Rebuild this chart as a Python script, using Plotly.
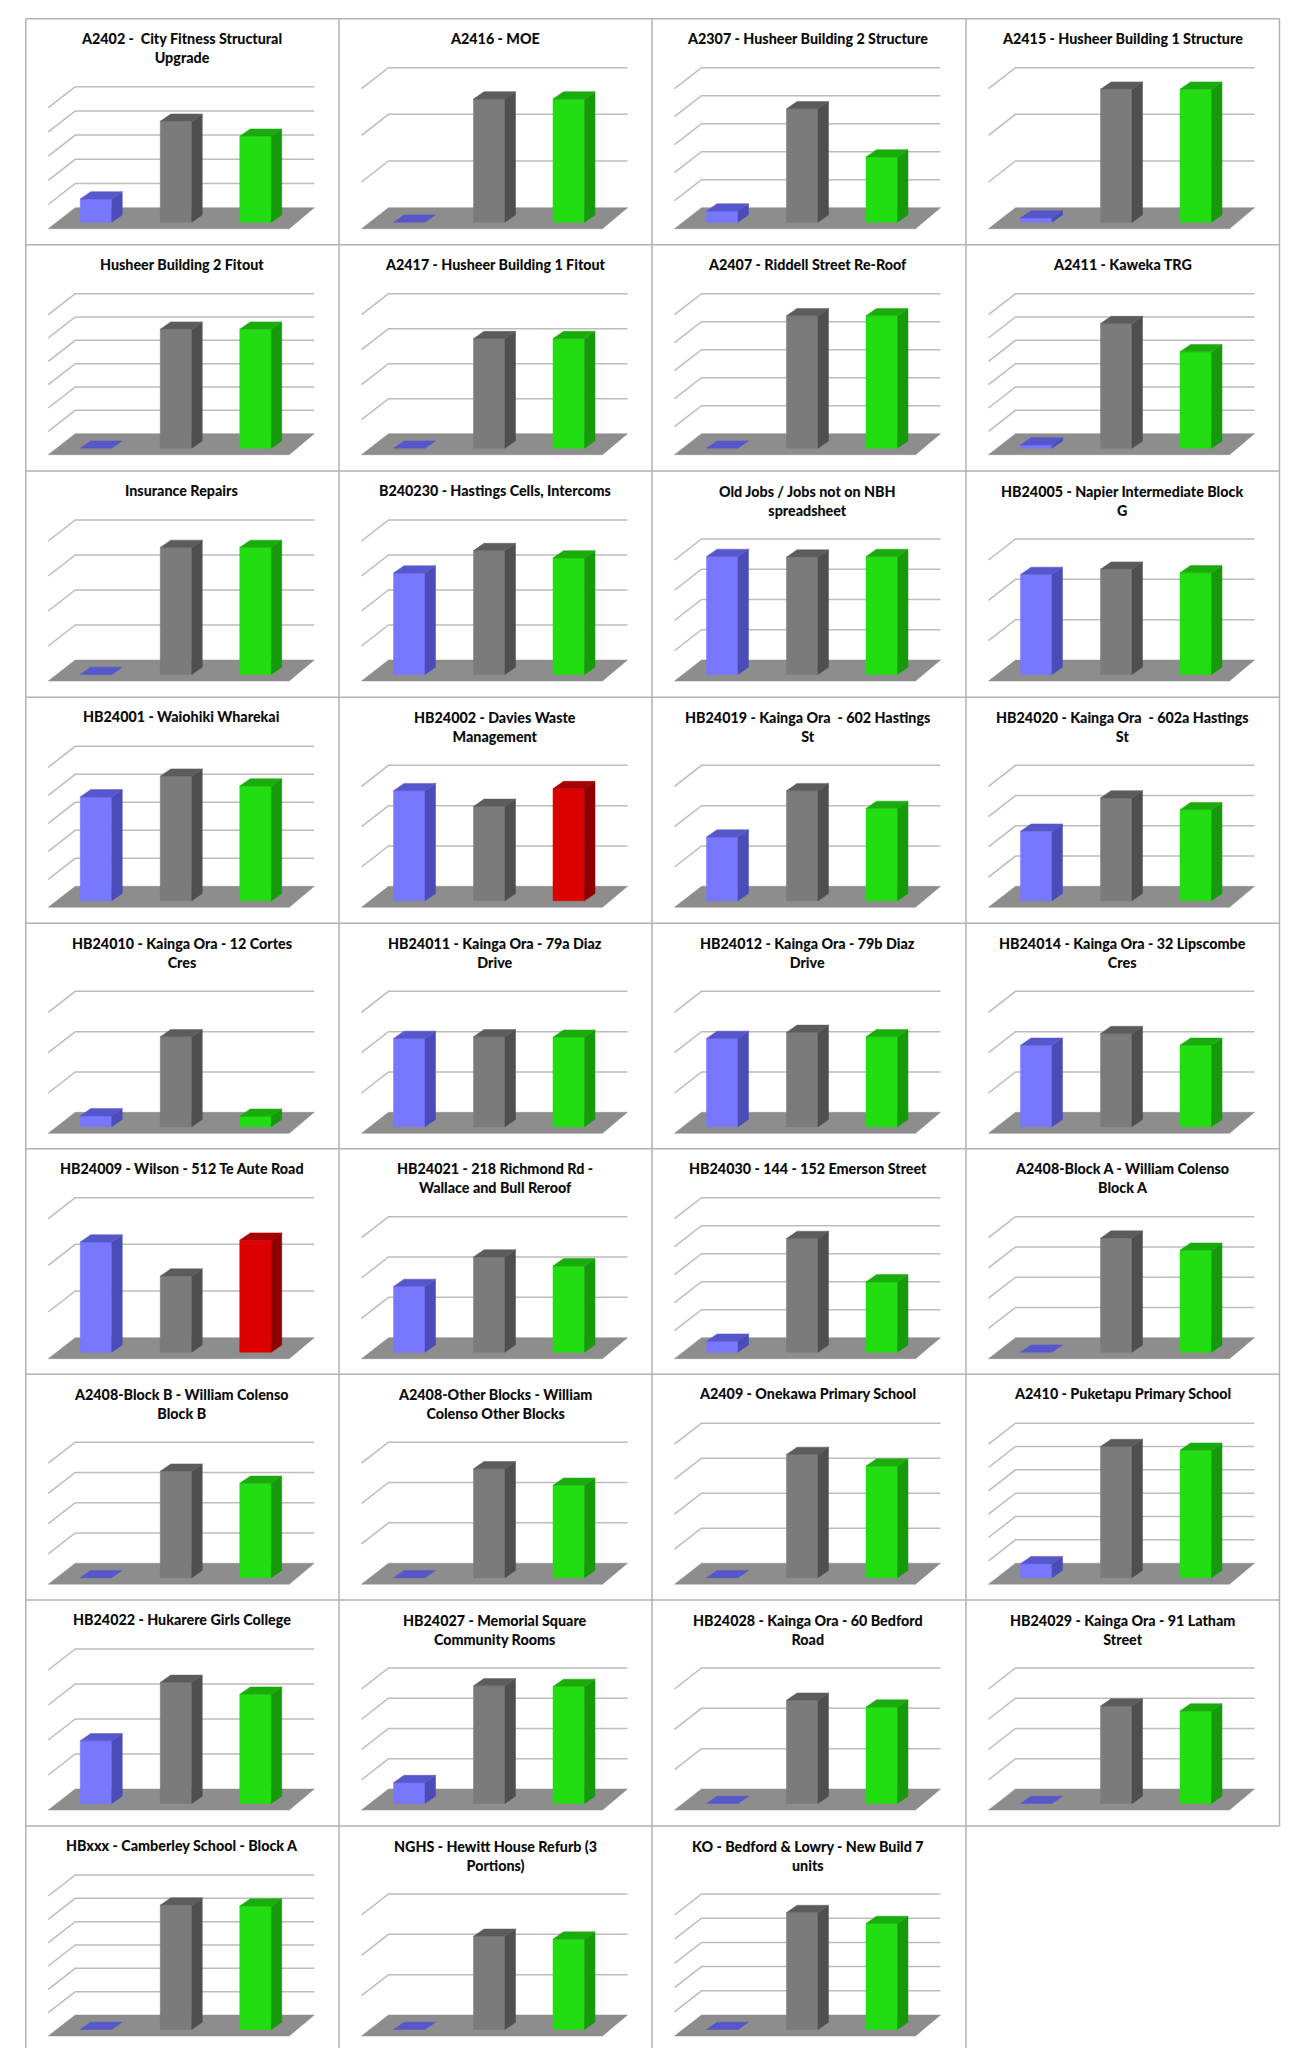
import plotly.graph_objects as go

# ---------- data (heights in gridline units) ----------
titles = [
    "A2402 -  City Fitness Structural<br>Upgrade", "A2416 - MOE", "A2307 - Husheer Building 2 Structure", "A2415 - Husheer Building 1 Structure",
    "Husheer Building 2 Fitout", "A2417 - Husheer Building 1 Fitout", "A2407 - Riddell Street Re-Roof", "A2411 - Kaweka TRG",
    "Insurance Repairs", "B240230 - Hastings Cells, Intercoms", "Old Jobs / Jobs not on NBH<br>spreadsheet", "HB24005 - Napier Intermediate Block<br>G",
    "HB24001 - Waiohiki Wharekai", "HB24002 - Davies Waste<br>Management", "HB24019 - Kainga Ora  - 602 Hastings<br>St", "HB24020 - Kainga Ora  - 602a Hastings<br>St",
    "HB24010 - Kainga Ora - 12 Cortes<br>Cres", "HB24011 - Kainga Ora - 79a Diaz<br>Drive", "HB24012 - Kainga Ora - 79b Diaz<br>Drive", "HB24014 - Kainga Ora - 32 Lipscombe<br>Cres",
    "HB24009 - Wilson - 512 Te Aute Road", "HB24021 - 218 Richmond Rd -<br>Wallace and Bull Reroof", "HB24030 - 144 - 152 Emerson Street", "A2408-Block A - William Colenso<br>Block A",
    "A2408-Block B - William Colenso<br>Block B", "A2408-Other Blocks - William<br>Colenso Other Blocks", "A2409 - Onekawa Primary School", "A2410 - Puketapu Primary School",
    "HB24022 - Hukarere Girls College", "HB24027 - Memorial Square<br>Community Rooms", "HB24028 - Kainga Ora - 60 Bedford<br>Road", "HB24029 - Kainga Ora - 91 Latham<br>Street",
    "HBxxx - Camberley School - Block A", "NGHS - Hewitt House Refurb (3<br>Portions)", "KO - Bedford &amp; Lowry - New Build 7<br>units",
]
grid_intervals = [5, 3, 5, 3, 6, 4, 5, 6, 4, 4, 4, 3, 5, 3, 3, 4, 3, 3, 3, 3, 3, 3, 5, 4, 4, 3, 4, 6, 4, 4, 3, 4, 6, 3, 5]
first_bar = [0.96, 0, 0.40, 0.09, 0, 0, 0, 0.14, 0, 2.90, 3.90, 2.48, 3.71, 2.73, 1.58, 2.30, 0.27, 2.19, 2.19, 2.02,
             2.36, 1.63, 0.39, 0, 0, 0, 0, 0.60, 1.79, 0.69, 0, 0, 0, 0, 0]
second_bar = [4.17, 2.64, 4.05, 2.85, 5.10, 3.13, 4.73, 5.34, 3.63, 3.54, 3.88, 2.61, 4.45, 2.34, 2.73, 3.40, 2.23, 2.23, 2.34, 2.31,
              1.63, 2.36, 4.06, 3.77, 3.52, 2.70, 3.52, 5.62, 3.46, 3.89, 2.56, 3.22, 5.33, 2.31, 4.83]
third_bar = [3.55, 2.64, 2.33, 2.85, 5.10, 3.13, 4.73, 4.13, 3.63, 3.33, 3.90, 2.52, 4.10, 2.78, 2.29, 3.01, 0.26, 2.22, 2.23, 2.02,
             2.40, 2.14, 2.51, 3.37, 3.12, 2.29, 3.19, 5.46, 3.12, 3.87, 2.39, 3.06, 5.29, 2.24, 4.38]
over_budget = {"HB24002 - Davies Waste<br>Management", "HB24009 - Wilson - 512 Te Aute Road"}

# ---------- styling ----------
W, H = 1301, 2048
COL_X = [25.75, 339.0, 652.0, 966.0, 1279.5]
ROW_Y = [18.7, 244.7, 471.0, 697.3, 923.3, 1148.7, 1374.2, 1600.0, 1826.0]
CELL_W, CELL_H = 313.4, 222.0
BORDER = "#b2b2b2"
GRID = "#bcbcbc"
FLOOR = "#8d8d8d"
BLUE = ("#7777ff", "#4c4cb8", "#5757cc")
GRAY = ("#7b7b7b", "#4f4f4f", "#5c5c5c")
GREEN = ("#22dd11", "#169a0b", "#1aab0d")
RED = ("#dd0000", "#8c0000", "#a80000")
FONT = "Lato"
# panel geometry in cell pixels
BASE = 203.5; FLOOR_BACK = 189.0; FLOOR_FRONT = 210.0
TOP_ONE = 49.0; TOP_TWO = 68.0
X_FL, X_BL, X_FR, X_BR = 22.5, 49.5, 263.5, 288.5
BAR_X = [54.5, 134.5, 214.0]; BAR_W = 31.5; DX = 10.5; DY = 7.3

fig = go.Figure()
annotations = []
layout_axes = {}


def poly(fig, xs, ys, color, xa, ya):
    fig.add_trace(go.Scatter(x=xs + [xs[0]], y=ys + [ys[0]], mode="lines", fill="toself", fillcolor=color,
                             line=dict(color=color, width=0.5), hoverinfo="skip", showlegend=False, xaxis=xa, yaxis=ya))


for i, title in enumerate(titles):
    r, c = i // 4, i % 4
    two = "<br>" in title
    top = TOP_TWO if two else TOP_ONE
    n = grid_intervals[i]
    u = (FLOOR_BACK - top) / n           # pixels per unit
    k = "" if i == 0 else str(i + 1)
    xa, ya = "x" + k, "y" + k
    layout_axes["xaxis" + k] = dict(domain=[COL_X[c] / W, min(1, (COL_X[c] + CELL_W) / W)], range=[0, CELL_W],
                                    visible=False, fixedrange=True, anchor=ya)
    layout_axes["yaxis" + k] = dict(domain=[1 - (ROW_Y[r] + CELL_H) / H, 1 - ROW_Y[r] / H],
                                    range=[-(CELL_H - BASE) / u, BASE / u],
                                    visible=False, fixedrange=True, anchor=xa)
    back0 = (BASE - FLOOR_BACK) / u
    drop = (FLOOR_FRONT - FLOOR_BACK) / u
    # walls
    gx, gy = [], []
    for t in range(1, n + 1):
        gx += [X_FL, X_BL, X_BR, None]
        gy += [back0 + t - drop, back0 + t, back0 + t, None]
    fig.add_trace(go.Scatter(x=gx, y=gy, mode="lines", line=dict(color=GRID, width=1.5), hoverinfo="skip",
                             showlegend=False, xaxis=xa, yaxis=ya))
    # floor
    poly(fig, [X_FL, X_FR, X_BR, X_BL], [back0 - drop, back0 - drop, back0, back0], FLOOR, xa, ya)
    # bars
    third_colors = RED if title in over_budget else GREEN
    for bx, v, cols in zip(BAR_X, (first_bar[i], second_bar[i], third_bar[i]), (BLUE, GRAY, third_colors)):
        dy = DY / u
        x1 = bx + BAR_W
        if v > 0:
            poly(fig, [bx, x1, x1, bx], [0, 0, v, v], cols[0], xa, ya)
            poly(fig, [x1, x1 + DX, x1 + DX, x1], [0, dy, v + dy, v], cols[1], xa, ya)
        poly(fig, [bx, x1, x1 + DX, bx + DX], [v, v, v + dy, v + dy], cols[2], xa, ya)
    annotations.append(dict(text=title, xref="paper", yref="paper",
                            x=(COL_X[c] + 156.0) / W, y=1 - (ROW_Y[r] + (29.6 if two else 19.6)) / H,
                            xanchor="center", yanchor="middle", showarrow=False, align="center",
                            font=dict(family=FONT, size=14.3, weight=900, color="#0c0c0c")))

# table frame
shapes = []
for y in ROW_Y:
    shapes.append(dict(type="line", xref="paper", yref="paper", x0=COL_X[0] / W, x1=COL_X[4] / W,
                       y0=1 - y / H, y1=1 - y / H, line=dict(color=BORDER, width=1.5)))
for j, x in enumerate(COL_X):
    end = ROW_Y[-1] if j == 4 else H
    shapes.append(dict(type="line", xref="paper", yref="paper", x0=x / W, x1=x / W,
                       y0=1 - ROW_Y[0] / H, y1=1 - end / H, line=dict(color=BORDER, width=1.5)))

fig.update_layout(width=W, height=H, margin=dict(l=0, r=0, t=0, b=0), paper_bgcolor="white", plot_bgcolor="rgba(0,0,0,0)",
                  showlegend=False, annotations=annotations, shapes=shapes, **layout_axes)
fig.write_html("out.html", config=dict(displayModeBar=False),
               post_script="document.body.style.margin='0';document.documentElement.style.overflow='hidden';")
